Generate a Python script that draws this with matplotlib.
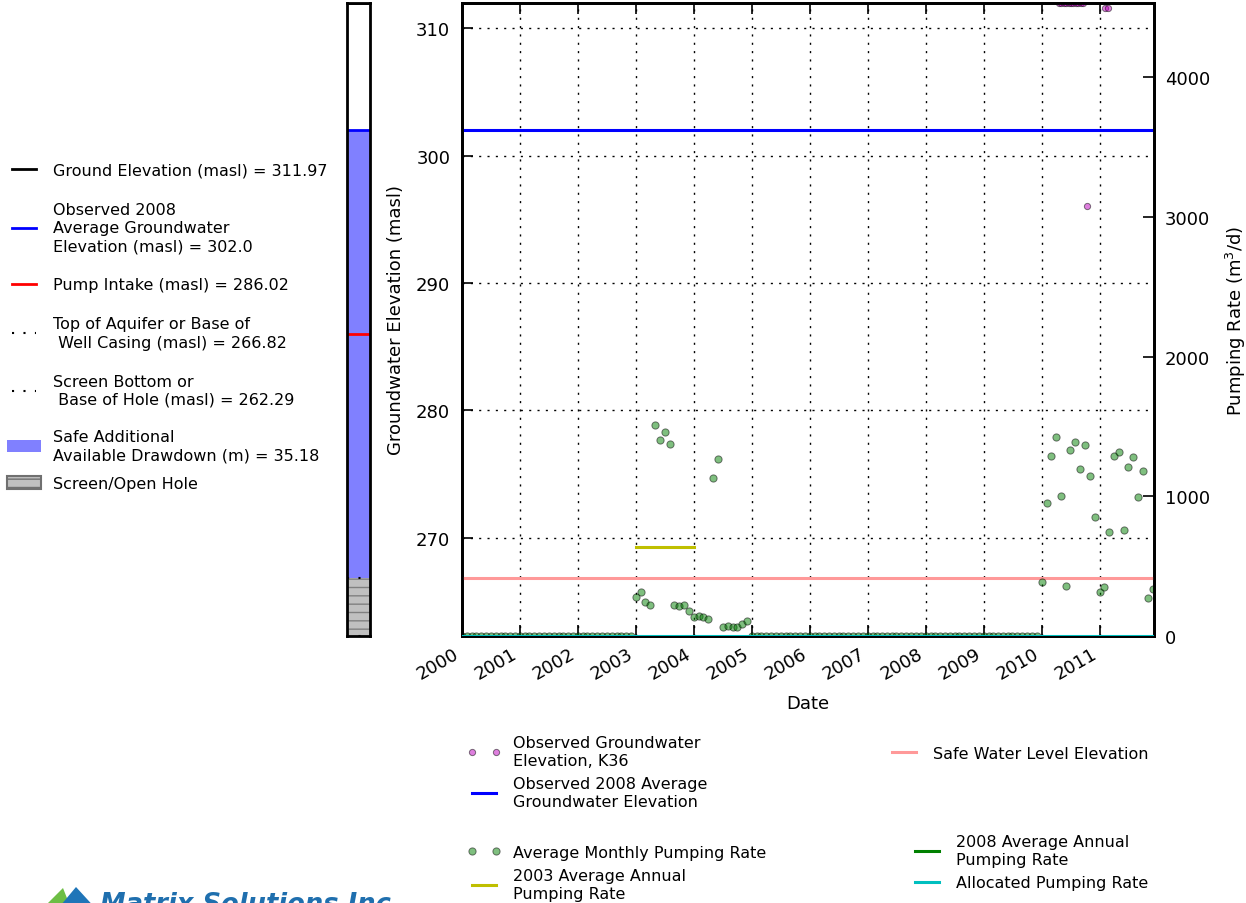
import datetime as dt

import matplotlib
matplotlib.use("Agg")
import matplotlib.pyplot as plt
import numpy as np
from matplotlib.lines import Line2D
from matplotlib.patches import Patch, Polygon

# ---------------------------------------------------------------
# Well construction details (masl)
# ---------------------------------------------------------------
ground_elev = 311.97
obs_2008_gw = 302.0
pump_intake = 286.02
top_aquifer = 266.82
screen_bottom = 262.29
safe_drawdown = 35.18
safe_water_level = 266.82

# Observed groundwater elevation, well K36
obs_dates = ["2010-04-20", "2010-05-05", "2010-05-20", "2010-06-05", "2010-06-20",
             "2010-07-05", "2010-07-20", "2010-08-05", "2010-08-20", "2010-09-05",
             "2010-09-18", "2010-10-16", "2011-02-03", "2011-02-24"]
obs_elev = [312.0, 312.0, 312.0, 312.0, 312.0,
            312.0, 312.0, 312.0, 312.0, 312.0,
            312.0, 296.0, 311.57, 311.57]

# Average monthly pumping rate (m3/d), Jan..Dec
pump_years = [2000, 2001, 2002, 2003, 2004, 2005, 2006, 2007, 2008, 2009, 2010, 2011]
rate_2000 = [0, 0, 0, 0, 0, 0, 0, 0, 0, 0, 0, 0]
rate_2001 = [0, 0, 0, 0, 0, 0, 0, 0, 0, 0, 0, 0]
rate_2002 = [0, 0, 0, 0, 0, 0, 0, 0, 0, 0, 0, 0]
rate_2003 = [281, 312, 246, 222, 1508, 1405, 1458, 1376, 219, 212, 219, 176]
rate_2004 = [133, 145, 133, 124, 1131, 1264, 64, 72, 62, 67, 84, 107]
rate_2005 = [0, 0, 0, 0, 0, 0, 0, 0, 0, 0, 0, 0]
rate_2006 = [0, 0, 0, 0, 0, 0, 0, 0, 0, 0, 0, 0]
rate_2007 = [0, 0, 0, 0, 0, 0, 0, 0, 0, 0, 0, 0]
rate_2008 = [0, 0, 0, 0, 0, 0, 0, 0, 0, 0, 0, 0]
rate_2009 = [0, 0, 0, 0, 0, 0, 0, 0, 0, 0, 0, 0]
rate_2010 = [389, 952, 1290, 1424, 1002, 358, 1333, 1388, 1197, 1369, 1143, 854]
rate_2011 = [312, 348, 744, 1286, 1315, 758, 1207, 1283, 995, 1178, 274, 336]
allocated_rate = 0.0

yearly_rates = [rate_2000, rate_2001, rate_2002, rate_2003, rate_2004, rate_2005,
                rate_2006, rate_2007, rate_2008, rate_2009, rate_2010, rate_2011]

pump_dates, pump_rates = [], []
for yr, vals in zip(pump_years, yearly_rates):
    for m, v in enumerate(vals, start=1):
        pump_dates.append(dt.datetime(yr, m, 1))
        pump_rates.append(v)

avg_2003 = float(np.mean(rate_2003))
avg_2008 = float(np.mean(rate_2008))

x_start = dt.datetime(2000, 1, 1)
x_end = dt.datetime(2011, 12, 10)

# ---------------------------------------------------------------
# Figure layout (pixel based)
# ---------------------------------------------------------------
W, H = 1246, 904
fig = plt.figure(figsize=(W / 100, H / 100), dpi=100, facecolor="white")
plt.rcParams["font.family"] = "DejaVu Sans"


def rect(x0, y0, x1, y1):
    """Figure-fraction rectangle from pixel corners (top-left origin)."""
    return [x0 / W, 1 - y1 / H, (x1 - x0) / W, (y1 - y0) / H]


TICK_FS = 13
LABEL_FS = 13
LEG_FS = 11.5
LINESPACING = 1.27
DOTS = (1, 4.5)

# ---------------- main time-series axes ----------------
ax = fig.add_axes(rect(462, 4, 1154, 637))
ax2 = ax.twinx()

ax.set_xlim(x_start, x_end)
ax.set_ylim(screen_bottom, ground_elev)
ax2.set_ylim(0, 4530)

ax.axhline(obs_2008_gw, color="b", lw=2.2, zorder=3)
ax.axhline(safe_water_level, color="#ff9999", lw=2.2, zorder=3)
ax.plot([dt.datetime.fromisoformat(d) for d in obs_dates], obs_elev, "o",
        color="m", alpha=0.5, mec="k", mew=0.7, ms=4.5, zorder=4)

ax2.plot(pump_dates, pump_rates, "o", color="g", alpha=0.5, mec="k",
         mew=0.7, ms=5.2, zorder=2)
ax2.plot([dt.datetime(2003, 1, 1), dt.datetime(2004, 1, 1)], [avg_2003, avg_2003],
         color="y", lw=2.2, zorder=3)
ax2.plot([dt.datetime(2008, 1, 1), dt.datetime(2009, 1, 1)], [avg_2008, avg_2008],
         color="g", lw=2.2, zorder=3)
ax2.axhline(allocated_rate, color="c", lw=2.2, zorder=3)

ax.set_yticks([270, 280, 290, 300, 310])
ax2.set_yticks([0, 1000, 2000, 3000, 4000])
ax.set_xticks([dt.datetime(y, 1, 1) for y in pump_years])
ax.set_xticklabels([str(y) for y in pump_years], rotation=30, ha="right",
                   fontsize=TICK_FS)
ax.tick_params(axis="y", labelsize=TICK_FS, direction="in", length=8, width=1.2,
               pad=8.5)
ax.tick_params(axis="x", direction="in", length=8, width=1.2, top=True, pad=6)
ax2.tick_params(axis="y", labelsize=TICK_FS, direction="in", length=8, width=1.2,
                pad=8)

ax.grid(True, color="k", lw=1.0, dashes=(1.5, 4.5))
for a in (ax, ax2):
    for s in a.spines.values():
        s.set_linewidth(2)

ax.set_xlabel("Date", fontsize=LABEL_FS, labelpad=8)
ax.set_ylabel("Groundwater Elevation (masl)", fontsize=LABEL_FS, labelpad=8)
ax2.set_ylabel("Pumping Rate (m$^3$/d)", fontsize=LABEL_FS, labelpad=10)

# ---------------- well schematic column ----------------
wax = fig.add_axes(rect(347, 4, 370, 637))
wax.set_xlim(0, 1)
wax.set_ylim(screen_bottom, ground_elev)
wax.axhspan(obs_2008_gw - safe_drawdown, obs_2008_gw, color="#8080ff", lw=0)
wax.axhspan(screen_bottom, top_aquifer, facecolor="#c0c0c0", edgecolor="#808080",
            hatch="--", lw=0)
wax.axhline(obs_2008_gw, color="b", lw=2)
wax.axhline(pump_intake, color="r", lw=2)
wax.axhline(top_aquifer, color="k", lw=1.5, dashes=DOTS)
wax.axhline(screen_bottom, color="k", lw=1.5, dashes=DOTS)
wax.axhline(ground_elev, color="k", lw=2)
wax.set_xticks([])
wax.set_yticks([])
for s in wax.spines.values():
    s.set_linewidth(2)


def spaced(leg):
    for t in leg.get_texts():
        t.set_linespacing(LINESPACING)
    return leg


# ---------------- well legend (left) ----------------
well_handles = [
    Line2D([], [], color="k", lw=2),
    Line2D([], [], color="b", lw=2),
    Line2D([], [], color="r", lw=2),
    Line2D([], [], color="k", lw=1.5, dashes=DOTS),
    Line2D([], [], color="k", lw=1.5, dashes=DOTS),
]
well_labels = [
    f"Ground Elevation (masl) = {ground_elev:.2f}",
    f"Observed 2008\nAverage Groundwater\nElevation (masl) = {obs_2008_gw:.1f}",
    f"Pump Intake (masl) = {pump_intake:.2f}",
    f"Top of Aquifer or Base of\n Well Casing (masl) = {top_aquifer:.2f}",
    f"Screen Bottom or\n Base of Hole (masl) = {screen_bottom:.2f}",
]
spaced(fig.legend(well_handles, well_labels, loc="upper left",
                  bbox_to_anchor=(7 / W, 1 - 164 / H), frameon=False,
                  fontsize=LEG_FS, numpoints=2, handlelength=2.1,
                  handletextpad=0.75, labelspacing=1.5, borderpad=0,
                  borderaxespad=0))
patch_handles = [
    Patch(facecolor="#8080ff", edgecolor="none"),
    Patch(facecolor="#c0c0c0", edgecolor="#707070", hatch="--", lw=1.5),
]
patch_labels = [
    f"Safe Additional\nAvailable Drawdown (m) = {safe_drawdown:.2f}",
    "Screen/Open Hole",
]
spaced(fig.legend(patch_handles, patch_labels, loc="upper left",
                  bbox_to_anchor=(7 / W, 1 - 430 / H), frameon=False,
                  fontsize=LEG_FS, handlelength=2.1, handleheight=0.85,
                  handletextpad=0.75, labelspacing=0.85, borderpad=0,
                  borderaxespad=0))

# ---------------- chart legends (bottom) ----------------
common = dict(loc="upper left", frameon=False, fontsize=LEG_FS, numpoints=2,
              handlelength=2.1, handletextpad=0.75, labelspacing=0.5,
              borderpad=0, borderaxespad=0)
spaced(fig.legend([Line2D([], [], ls="none", marker="o", color="m", alpha=0.5,
                          mec="k", mew=0.7, ms=4.5),
                   Line2D([], [], color="b", lw=2.2)],
                  ["Observed Groundwater\nElevation, K36",
                   "Observed 2008 Average\nGroundwater Elevation"],
                  bbox_to_anchor=(467 / W, 1 - 736 / H), **common))
spaced(fig.legend([Line2D([], [], color="#ff9999", lw=2.2)],
                  ["Safe Water Level Elevation"],
                  bbox_to_anchor=(887 / W, 1 - 747 / H), **common))
spaced(fig.legend([Line2D([], [], ls="none", marker="o", color="g", alpha=0.5,
                          mec="k", mew=0.7, ms=5.2),
                   Line2D([], [], color="y", lw=2.2)],
                  ["Average Monthly Pumping Rate",
                   "2003 Average Annual\nPumping Rate"],
                  bbox_to_anchor=(467 / W, 1 - 846 / H), **common))
spaced(fig.legend([Line2D([], [], color="g", lw=2.2),
                   Line2D([], [], color="c", lw=2.2)],
                  ["2008 Average Annual\nPumping Rate",
                   "Allocated Pumping Rate"],
                  bbox_to_anchor=(910 / W, 1 - 835 / H), **common))

# ---------------- company logo ----------------
def fig_pts(pts):
    return [(x / W, 1 - y / H) for x, y in pts]


fig.patches.append(Polygon(fig_pts([(40, 912), (63, 889), (72, 912)]),
                           closed=True, transform=fig.transFigure,
                           facecolor="#6dbe45", edgecolor="none"))
fig.patches.append(Polygon(fig_pts([(56, 912), (76, 888), (98, 912)]),
                           closed=True, transform=fig.transFigure,
                           facecolor="#1f75b8", edgecolor="none"))
fig.text(100 / W, 1 - 912 / H, "Matrix Solutions Inc", fontsize=18.5,
         fontweight="bold", fontstyle="italic", color="#1f6fae",
         ha="left", va="baseline")

fig.savefig("out.png", dpi=100, facecolor="white")
